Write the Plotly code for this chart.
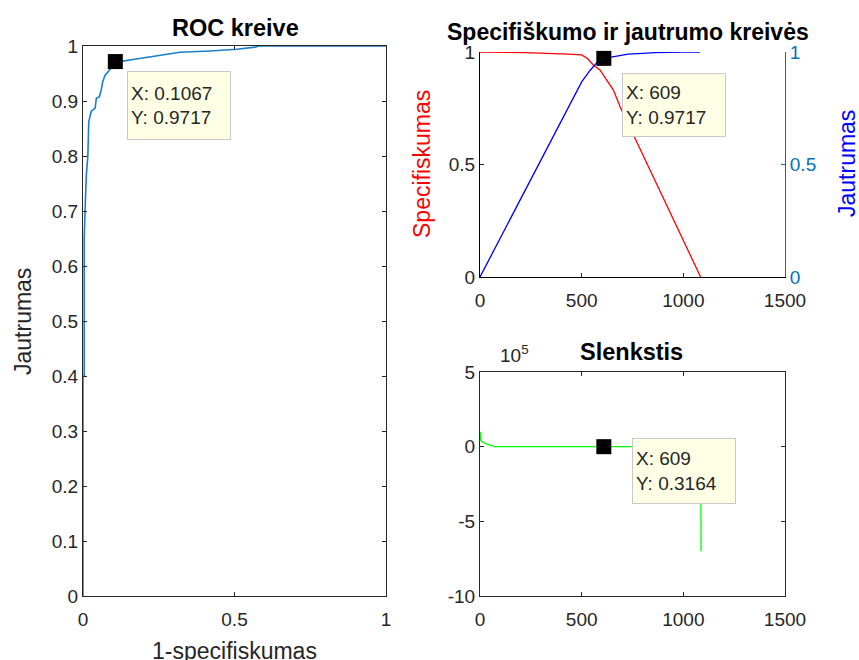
import plotly.graph_objects as go

# ---------------- data ----------------
# ROC curve (1-specificity, sensitivity)
roc_fpr = [0, 0, 0.004, 0.004, 0.008, 0.011, 0.016, 0.019, 0.027, 0.040, 0.044, 0.054,
           0.060, 0.065, 0.073, 0.087, 0.1067, 0.13, 0.16, 0.199, 0.243, 0.32, 0.42,
           0.507, 0.568, 0.58, 1.0]
roc_tpr = [0, 0.40, 0.40, 0.65, 0.72, 0.765, 0.80, 0.862, 0.881, 0.887, 0.905, 0.908,
           0.92, 0.935, 0.947, 0.956, 0.9717, 0.9725, 0.975, 0.978, 0.982, 0.9885, 0.991,
           0.994, 0.998, 1.0, 1.0]
roc_tip = (0.1067, 0.9717)

# specificity and sensitivity vs. index
spec_x = [0, 221, 222, 434, 500, 530, 557, 590, 623, 656, 689, 771, 850, 950, 1085]
spec_y = [1, 1, 0.997, 0.991, 0.987, 0.97, 0.942, 0.92, 0.876, 0.831, 0.757, 0.60,
          0.45, 0.255, 0]
sens_x = [0, 100, 200, 300, 400, 500, 541, 557, 582, 609, 640, 672, 729, 800, 861,
          1000, 1082]
sens_y = [0, 0.173, 0.347, 0.52, 0.694, 0.867, 0.918, 0.935, 0.96, 0.9717, 0.976,
          0.982, 0.991, 0.994, 0.997, 1.0, 1.0]
sens_tip = (609, 0.9717)

# thresholds vs. index
thr_x = [1, 3, 8, 16, 30, 62, 70, 300, 609, 800, 1086, 1087]
thr_y = [100000, 45000, 35000, 27000, 18000, 5000, 500, 100, 0.3164, 0.05, 0.01, -700000]
thr_tip = (609, 0.3164)

# tick labels
roc_ticks = [i / 10 for i in range(11)]
roc_ticktext = ["0", "0.1", "0.2", "0.3", "0.4", "0.5", "0.6", "0.7", "0.8", "0.9", "1"]
idx_ticks = [0, 500, 1000, 1500]
thr_ticks = [-1e6, -5e5, 0, 5e5]
thr_ticktext = ["-10", "-5", "0", "5"]

# ---------------- figure ----------------
W, H = 859, 660
FONT = "Liberation Sans, Arial, Helvetica, sans-serif"
AX = "#262626"
MBLUE = "#0072BD"
TICKF = dict(family=FONT, size=19, color=AX)


def px(x):
    return x / W


def py(y):
    return 1 - y / H


fig = go.Figure()

fig.add_trace(go.Scatter(x=roc_fpr, y=roc_tpr, mode="lines",
                         line=dict(color="#1a7fcc", width=1.6),
                         xaxis="x", yaxis="y", hoverinfo="skip"))
fig.add_trace(go.Scatter(x=[roc_tip[0]], y=[roc_tip[1]], mode="markers",
                         marker=dict(symbol="square", size=15, color="black"),
                         xaxis="x", yaxis="y", cliponaxis=False))

fig.add_trace(go.Scatter(x=spec_x, y=spec_y, mode="lines",
                         line=dict(color="#ff0000", width=1.3),
                         xaxis="x2", yaxis="y2"))
fig.add_trace(go.Scatter(x=sens_x, y=sens_y, mode="lines",
                         line=dict(color="#0000ff", width=1.3),
                         xaxis="x2", yaxis="y3"))
fig.add_trace(go.Scatter(x=[sens_tip[0]], y=[sens_tip[1]], mode="markers",
                         marker=dict(symbol="square", size=15, color="black"),
                         xaxis="x2", yaxis="y3", cliponaxis=False))

fig.add_trace(go.Scatter(x=thr_x, y=thr_y, mode="lines",
                         line=dict(color="#00ff00", width=1.3),
                         xaxis="x3", yaxis="y4"))
fig.add_trace(go.Scatter(x=[thr_tip[0]], y=[thr_tip[1]], mode="markers",
                         marker=dict(symbol="square", size=15, color="black"),
                         xaxis="x3", yaxis="y4", cliponaxis=False))

common = dict(showgrid=False, zeroline=False, showline=True, ticks="inside",
              ticklen=4, tickcolor=AX, tickfont=TICKF, linewidth=1, automargin=False)
xcommon = dict(common, ticklabelstandoff=6)

fig.update_layout(
    width=W, height=H, margin=dict(l=0, r=0, t=0, b=0, pad=0, autoexpand=False),
    paper_bgcolor="white", plot_bgcolor="white", showlegend=False,
    xaxis=dict(domain=[px(83), px(386)], range=[0, 1], tickvals=[0, 0.5, 1],
               ticktext=["0", "0.5", "1"], anchor="y", mirror="ticks",
               linecolor=AX, **xcommon),
    yaxis=dict(domain=[py(596), py(46)], range=[0, 1], tickvals=roc_ticks,
               ticktext=roc_ticktext, anchor="x", mirror="ticks",
               linecolor=AX, **common),
    xaxis2=dict(domain=[px(480), px(785)], range=[0, 1500], tickvals=idx_ticks,
                anchor="y2", linecolor="black", **xcommon),
    yaxis2=dict(domain=[py(277), py(52)], range=[0, 1], tickvals=[0, 0.5, 1],
                ticktext=["0", "0.5", "1"], anchor="x2", linecolor="black", **common),
    yaxis3=dict(domain=[py(277), py(52)], range=[0, 1], tickvals=[0, 0.5, 1],
                ticktext=["0", "0.5", "1"], anchor="x2", overlaying="y2", side="right",
                showgrid=False, zeroline=False, showline=True, ticks="inside",
                ticklen=4, tickcolor=MBLUE, linecolor=MBLUE, linewidth=1, automargin=False,
                tickfont=dict(family=FONT, size=19, color=MBLUE)),
    xaxis3=dict(domain=[px(480), px(785)], range=[0, 1500], tickvals=idx_ticks,
                anchor="y4", mirror="ticks", linecolor=AX, **xcommon),
    yaxis4=dict(domain=[py(596), py(372)], range=[-1e6, 5e5], tickvals=thr_ticks,
                ticktext=thr_ticktext, anchor="x3", mirror="ticks", linecolor=AX, **common),
)

ann = []
TITLEF = dict(family=FONT, size=23.5, color="black")
LABF = dict(family=FONT, size=23, color=AX)
ann.append(dict(text="<b>ROC kreive</b>", x=px(235), y=py(28), font=TITLEF))
ann.append(dict(text="<b>Specifiškumo ir jautrumo kreivės</b>", x=px(628), y=py(32),
                font=dict(family=FONT, size=23, color="black")))
ann.append(dict(text="<b>Slenkstis</b>", x=px(631), y=py(352), font=TITLEF))
ann.append(dict(text="10<sup>5</sup>", x=px(514), y=py(354), font=dict(family=FONT, size=19, color=AX)))
ann.append(dict(text="Jautrumas", x=px(23), y=py(322), textangle=-90, font=LABF))
ann.append(dict(text="1-specifiskumas", x=px(234), y=py(651), font=LABF))
ann.append(dict(text="Specifiskumas", x=px(422), y=py(164), textangle=-90,
                font=dict(family=FONT, size=23, color="#ff0000")))
ann.append(dict(text="Jautrumas", x=px(847), y=py(164), textangle=-90,
                font=dict(family=FONT, size=23, color="#0000ff")))
for a in ann:
    a.update(xref="paper", yref="paper", showarrow=False, xanchor="center", yanchor="middle")

TIPF = dict(family=FONT, size=19, color="#262626")
tip_common = dict(showarrow=False, xanchor="left", yanchor="top", align="left",
                  bgcolor="#ffffe6", bordercolor="#c8c8c8", borderwidth=1, borderpad=3,
                  font=TIPF, width=96)
ann.append(dict(text="X: 0.1067<br>Y: 0.9717", xref="x", yref="y",
                x=roc_tip[0], y=roc_tip[1], xshift=12, yshift=-9, height=61, **tip_common))
ann.append(dict(text="X: 609<br>Y: 0.9717", xref="x2", yref="y3",
                x=sens_tip[0], y=sens_tip[1], xshift=18, yshift=-15, height=56, **tip_common))
ann.append(dict(text="X: 609<br>Y: 0.3164", xref="x3", yref="y4",
                x=thr_tip[0], y=thr_tip[1], xshift=28, yshift=9, height=58, **tip_common))

fig.update_layout(annotations=ann)
fig.write_html("out.html")
